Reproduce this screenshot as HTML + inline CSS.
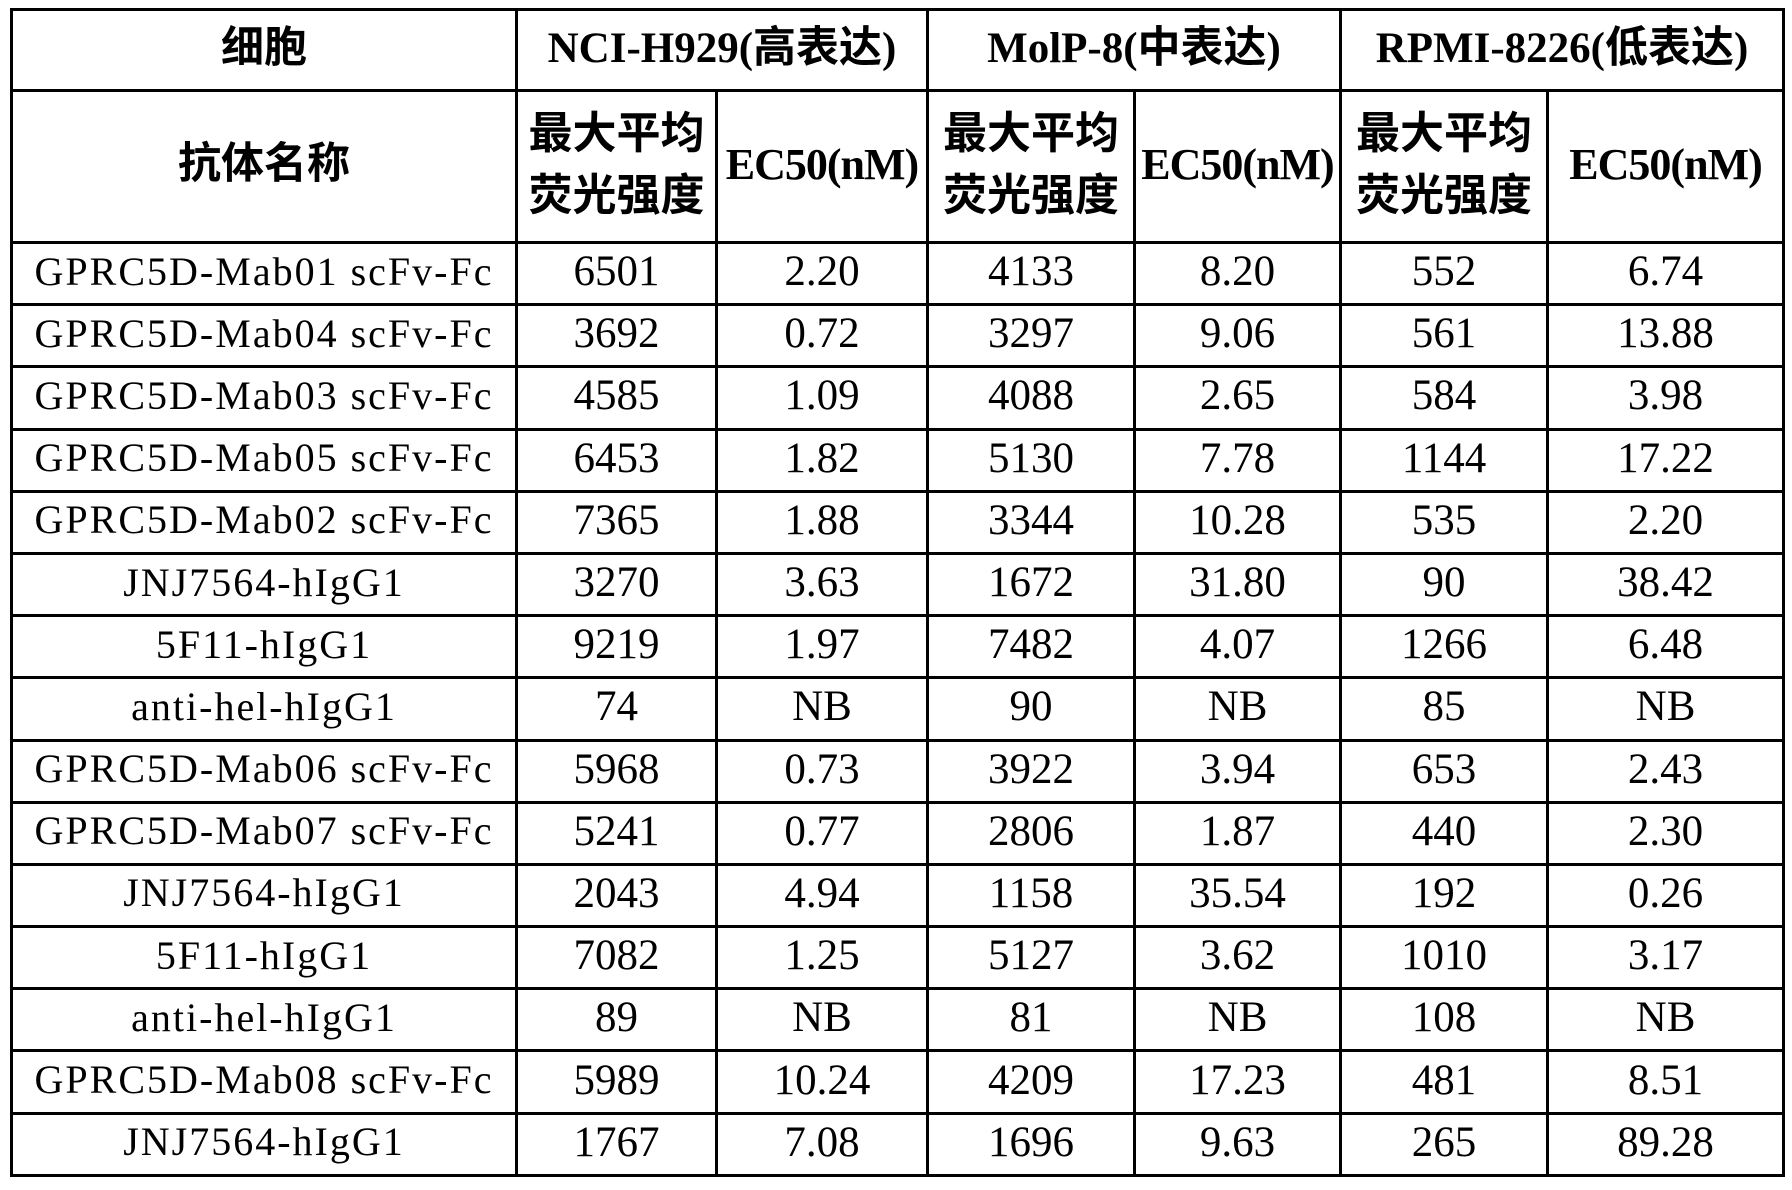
<!DOCTYPE html>
<html><head><meta charset="utf-8"><style>
html,body{margin:0;padding:0;background:#fff;width:1792px;height:1190px;overflow:hidden}
table{position:absolute;left:10px;top:8px;border-collapse:collapse;table-layout:fixed;width:1772px}
td{border:3px solid #000;padding:0 0 4px 0;text-align:center;vertical-align:middle;font-family:"Liberation Serif","Noto Serif CJK SC",serif;font-size:43px;color:#000;line-height:1;white-space:nowrap;overflow:hidden}
td.n{letter-spacing:2px;font-size:40px}
.h{font-weight:bold;font-size:43px;font-family:"Liberation Serif","Noto Sans CJK SC",sans-serif}
.h2{font-weight:bold;font-size:44px;line-height:62px;font-family:"Liberation Serif","Noto Sans CJK SC",sans-serif}
.e{font-weight:bold;font-size:44px;letter-spacing:-1px}
tr.d td{height:55.2px}
</style></head><body>
<table>
<colgroup><col style="width:505px"><col style="width:200px"><col style="width:211px"><col style="width:207px"><col style="width:206px"><col style="width:207px"><col style="width:236px"></colgroup>
<tr style="height:81px"><td class="h">细胞</td><td class="h" colspan="2">NCI-H929(高表达)</td><td class="h" colspan="2">MolP-8(中表达)</td><td class="h" colspan="2">RPMI-8226(低表达)</td></tr>
<tr style="height:152px"><td class="h">抗体名称</td><td class="h2">最大平均<br>荧光强度</td><td class="h e">EC50(nM)</td><td class="h2">最大平均<br>荧光强度</td><td class="h e">EC50(nM)</td><td class="h2">最大平均<br>荧光强度</td><td class="h e">EC50(nM)</td></tr>
<tr class="d"><td class="n">GPRC5D-Mab01 scFv-Fc</td><td>6501</td><td>2.20</td><td>4133</td><td>8.20</td><td>552</td><td>6.74</td></tr>
<tr class="d"><td class="n">GPRC5D-Mab04 scFv-Fc</td><td>3692</td><td>0.72</td><td>3297</td><td>9.06</td><td>561</td><td>13.88</td></tr>
<tr class="d"><td class="n">GPRC5D-Mab03 scFv-Fc</td><td>4585</td><td>1.09</td><td>4088</td><td>2.65</td><td>584</td><td>3.98</td></tr>
<tr class="d"><td class="n">GPRC5D-Mab05 scFv-Fc</td><td>6453</td><td>1.82</td><td>5130</td><td>7.78</td><td>1144</td><td>17.22</td></tr>
<tr class="d"><td class="n">GPRC5D-Mab02 scFv-Fc</td><td>7365</td><td>1.88</td><td>3344</td><td>10.28</td><td>535</td><td>2.20</td></tr>
<tr class="d"><td class="n">JNJ7564-hIgG1</td><td>3270</td><td>3.63</td><td>1672</td><td>31.80</td><td>90</td><td>38.42</td></tr>
<tr class="d"><td class="n">5F11-hIgG1</td><td>9219</td><td>1.97</td><td>7482</td><td>4.07</td><td>1266</td><td>6.48</td></tr>
<tr class="d"><td class="n">anti-hel-hIgG1</td><td>74</td><td>NB</td><td>90</td><td>NB</td><td>85</td><td>NB</td></tr>
<tr class="d"><td class="n">GPRC5D-Mab06 scFv-Fc</td><td>5968</td><td>0.73</td><td>3922</td><td>3.94</td><td>653</td><td>2.43</td></tr>
<tr class="d"><td class="n">GPRC5D-Mab07 scFv-Fc</td><td>5241</td><td>0.77</td><td>2806</td><td>1.87</td><td>440</td><td>2.30</td></tr>
<tr class="d"><td class="n">JNJ7564-hIgG1</td><td>2043</td><td>4.94</td><td>1158</td><td>35.54</td><td>192</td><td>0.26</td></tr>
<tr class="d"><td class="n">5F11-hIgG1</td><td>7082</td><td>1.25</td><td>5127</td><td>3.62</td><td>1010</td><td>3.17</td></tr>
<tr class="d"><td class="n">anti-hel-hIgG1</td><td>89</td><td>NB</td><td>81</td><td>NB</td><td>108</td><td>NB</td></tr>
<tr class="d"><td class="n">GPRC5D-Mab08 scFv-Fc</td><td>5989</td><td>10.24</td><td>4209</td><td>17.23</td><td>481</td><td>8.51</td></tr>
<tr class="d"><td class="n">JNJ7564-hIgG1</td><td>1767</td><td>7.08</td><td>1696</td><td>9.63</td><td>265</td><td>89.28</td></tr>
</table>
</body></html>
